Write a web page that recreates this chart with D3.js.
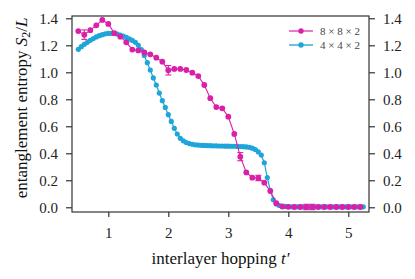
<!DOCTYPE html>
<html>
<head>
<meta charset="utf-8">
<script src="https://cdn.jsdelivr.net/npm/d3@7"></script>
<style>
  body { margin: 0; background: #fff; }
  svg text { font-family: "Liberation Serif", "DejaVu Serif", serif; }
</style>
</head>
<body>
<script>
// 8x8x2 series, t' step 0.1
var xBig = [];
for (var i = 0; i < 48; i++) xBig.push(+(0.5 + i * 0.1).toFixed(2));
var yBig = [1.305, 1.279, 1.312, 1.348, 1.388, 1.358, 1.290, 1.264, 1.222, 1.168,
            1.162, 1.147, 1.133, 1.108, 1.079, 1.015, 1.025, 1.025, 1.017, 0.997,
            0.972, 0.906, 0.808, 0.742, 0.733, 0.671, 0.543, 0.375, 0.258, 0.219,
            0.217, 0.182, 0.120, 0.030, 0.005, 0.003, 0.002, 0.002, 0.002, 0.002,
            0.002, 0.002, 0.002, 0.002, 0.002, 0.002, 0.002, 0.002];
var errBig = [0, 0.035, 0, 0, 0, 0, 0, 0, 0, 0,
              0, 0, 0, 0, 0, 0.035, 0, 0, 0, 0,
              0, 0, 0, 0, 0, 0, 0, 0.03, 0, 0,
              0.02, 0, 0, 0, 0, 0, 0, 0, 0.02, 0.02,
              0, 0, 0, 0, 0, 0, 0, 0];

// 4x4x2 series, t' step 0.05
var xSmall = [];
for (var j = 0; j < 96; j++) xSmall.push(+(0.5 + j * 0.05).toFixed(2));
var ySmall = [1.170, 1.190, 1.207, 1.222, 1.237, 1.250, 1.262, 1.271, 1.279, 1.285,
              1.288, 1.289, 1.287, 1.283, 1.276, 1.268, 1.258, 1.248, 1.236, 1.222,
              1.200, 1.168, 1.125, 1.071, 1.017, 0.958, 0.906, 0.846, 0.790, 0.740,
              0.686, 0.636, 0.585, 0.543, 0.511, 0.492, 0.480, 0.472, 0.467, 0.463,
              0.461, 0.459, 0.458, 0.457, 0.456, 0.455, 0.455, 0.454, 0.454, 0.453,
              0.453, 0.452, 0.452, 0.451, 0.450, 0.449, 0.447, 0.444, 0.438, 0.428,
              0.410, 0.387, 0.330, 0.220, 0.125, 0.055, 0.025, 0.013, 0.008, 0.006,
              0.005, 0.004, 0.004, 0.003, 0.003, 0.003, 0.003, 0.003, 0.003, 0.003,
              0.003, 0.003, 0.003, 0.003, 0.003, 0.003, 0.003, 0.003, 0.003, 0.003,
              0.003, 0.003, 0.003, 0.003, 0.003, 0.003];

var xTicks = [1, 2, 3, 4, 5];
var yTicks = [0, 0.2, 0.4, 0.6, 0.8, 1.0, 1.2, 1.4];
var seriesNames = ["8 \u00d7 8 \u00d7 2", "4 \u00d7 4 \u00d7 2"];
var colors = ["#dc1fa9", "#1ea6d9"];

var width = 415, height = 279;
var mLeft = 72, mRight = 369, mTop = 16, mBottom = 212;
var axisColor = "#333";

var svg = d3.select("body").append("svg")
    .attr("width", width)
    .attr("height", height);

var x = d3.scaleLinear().domain([0.395, 5.345]).range([mLeft, mRight]);
var y = d3.scaleLinear().domain([-0.035, 1.417]).range([mBottom, mTop]);

// frame
svg.append("rect")
    .attr("x", mLeft).attr("y", mTop)
    .attr("width", mRight - mLeft).attr("height", mBottom - mTop)
    .attr("fill", "none").attr("stroke", axisColor).attr("stroke-width", 1.2);

function styleAxis(g) {
    g.attr("font-family", null).attr("font-size", null);
    g.select(".domain").remove();
    g.selectAll(".tick line").attr("stroke", axisColor).attr("stroke-width", 1.2);
    g.selectAll(".tick text").attr("fill", "#222").style("font-size", "15px");
}

svg.append("g")
    .attr("transform", "translate(0," + mBottom + ")")
    .call(d3.axisBottom(x).tickValues(xTicks).tickFormat(d3.format("d")).tickSize(5).tickPadding(10))
    .call(styleAxis);

svg.append("g")
    .attr("transform", "translate(" + mLeft + ",0)")
    .call(d3.axisLeft(y).tickValues(yTicks).tickFormat(d3.format(".1f")).tickSize(6).tickPadding(8))
    .call(styleAxis);

svg.append("g")
    .attr("transform", "translate(" + mRight + ",0)")
    .call(d3.axisRight(y).tickValues(yTicks).tickFormat(d3.format(".1f")).tickSize(6).tickPadding(8))
    .call(styleAxis);

var line = d3.line()
    .x(function(d) { return x(d[0]); })
    .y(function(d) { return y(d[1]); });

var smallData = xSmall.map(function(v, k) { return [v, ySmall[k]]; });
var bigData = xBig.map(function(v, k) { return [v, yBig[k], errBig[k]]; });

// 4x4x2 (drawn first, underneath)
svg.append("path")
    .datum(smallData)
    .attr("d", line)
    .attr("fill", "none")
    .attr("stroke", colors[1])
    .attr("stroke-width", 1.2);

svg.append("g").selectAll("circle")
    .data(smallData)
    .enter()
    .append("circle")
    .attr("cx", function(d) { return x(d[0]); })
    .attr("cy", function(d) { return y(d[1]); })
    .attr("r", 2.6)
    .attr("fill", colors[1]);

// 8x8x2
svg.append("path")
    .datum(bigData)
    .attr("d", line)
    .attr("fill", "none")
    .attr("stroke", colors[0])
    .attr("stroke-width", 1.1);

var errs = svg.append("g").selectAll("g")
    .data(bigData.filter(function(d) { return d[2] > 0; }))
    .enter().append("g")
    .attr("stroke", colors[0])
    .attr("stroke-width", 1.1);

errs.append("line")
    .attr("x1", function(d) { return x(d[0]); })
    .attr("x2", function(d) { return x(d[0]); })
    .attr("y1", function(d) { return y(d[1] - d[2]); })
    .attr("y2", function(d) { return y(d[1] + d[2]); });

[-1, 1].forEach(function(s) {
    errs.append("line")
        .attr("x1", function(d) { return x(d[0]) - 3; })
        .attr("x2", function(d) { return x(d[0]) + 3; })
        .attr("y1", function(d) { return y(d[1] + s * d[2]); })
        .attr("y2", function(d) { return y(d[1] + s * d[2]); });
});

svg.append("g").selectAll("circle")
    .data(bigData)
    .enter()
    .append("circle")
    .attr("cx", function(d) { return x(d[0]); })
    .attr("cy", function(d) { return y(d[1]); })
    .attr("r", 2.9)
    .attr("fill", colors[0]);

// legend
var legend = svg.append("g").selectAll("g")
    .data(seriesNames)
    .enter().append("g")
    .attr("transform", function(d, i) { return "translate(289," + (31 + i * 14) + ")"; });

legend.append("line")
    .attr("x1", 0).attr("x2", 24)
    .attr("stroke", function(d, i) { return colors[i]; })
    .attr("stroke-width", function(d, i) { return i == 1 ? 1.8 : 1.2; })
    .attr("stroke-opacity", function(d, i) { return i == 1 ? 0.75 : 1; });

legend.append("circle")
    .attr("cx", 12).attr("r", 2.7)
    .attr("fill", function(d, i) { return colors[i]; });

legend.append("text")
    .attr("x", 31).attr("dy", "0.35em")
    .attr("fill", "#444")
    .style("font-size", "11px")
    .text(function(d) { return d; });

// axis labels
var xl = svg.append("text")
    .attr("x", (mLeft + mRight) / 2)
    .attr("y", 264)
    .attr("text-anchor", "middle")
    .attr("fill", "#111")
    .style("font-size", "17px");
xl.append("tspan").text("interlayer hopping ");
xl.append("tspan").style("font-style", "italic").text("t\u2032");

var yl = svg.append("text")
    .attr("transform", "translate(27," + ((mTop + mBottom) / 2 - 6) + ") rotate(-90)")
    .attr("text-anchor", "middle")
    .attr("fill", "#111")
    .style("font-size", "17px");
yl.append("tspan").text("entanglement entropy ");
yl.append("tspan").style("font-style", "italic").text("S");
yl.append("tspan").attr("dy", 3).style("font-size", "12px").text("2");
yl.append("tspan").attr("dy", -3).text("/");
yl.append("tspan").style("font-style", "italic").text("L");
</script>
</body>
</html>
